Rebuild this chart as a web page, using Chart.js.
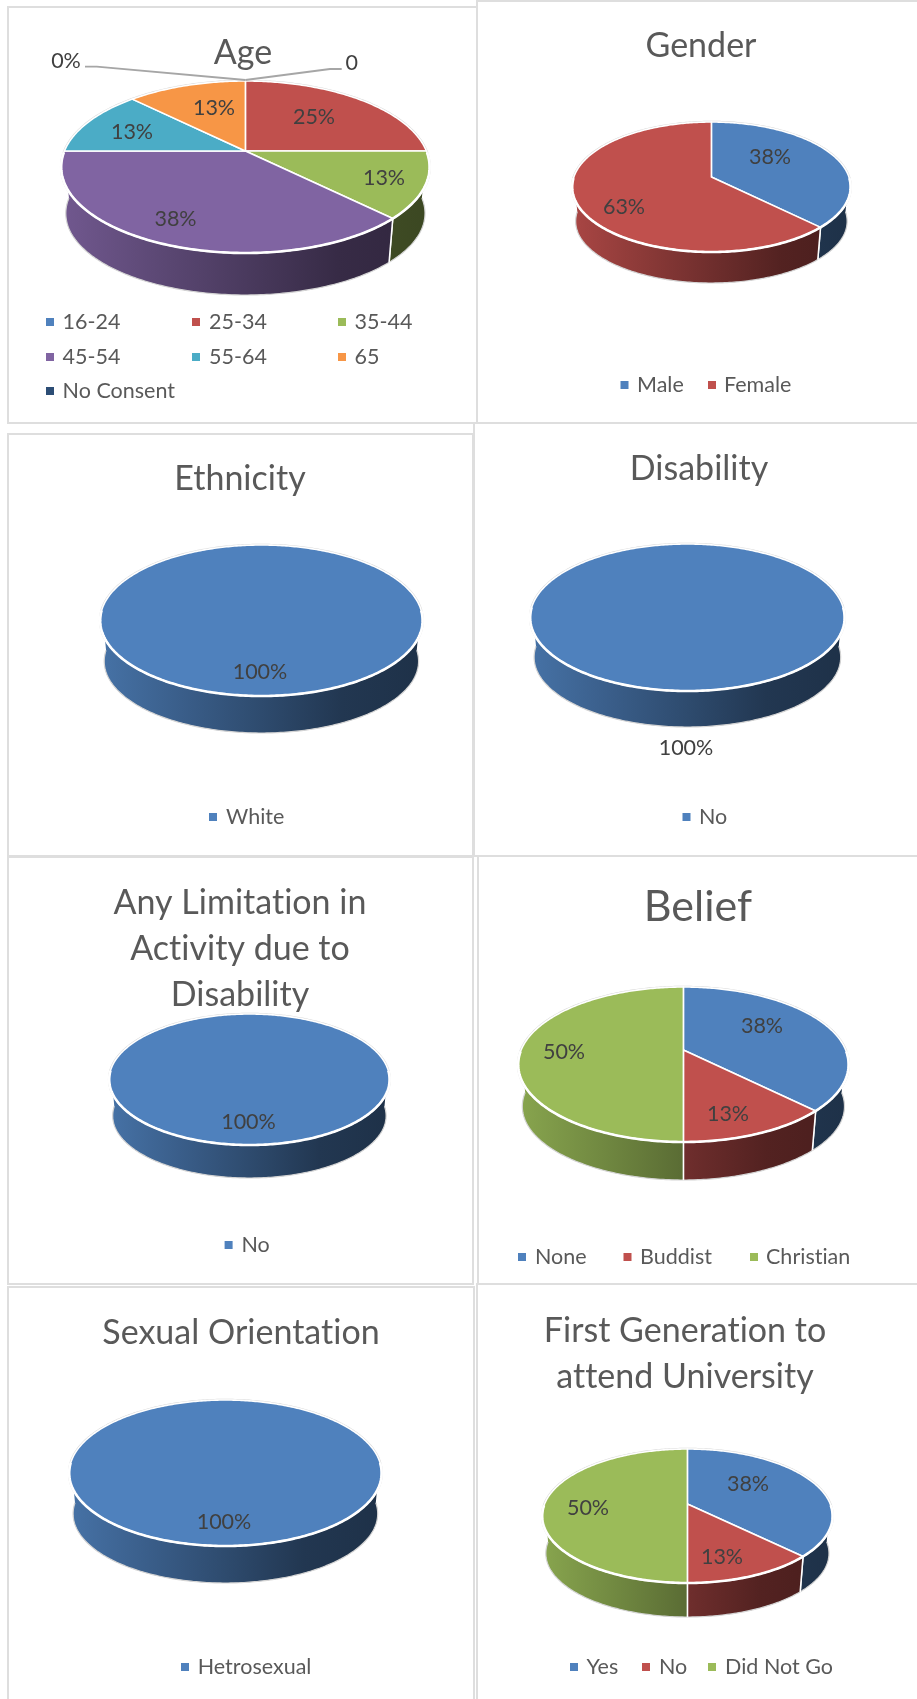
<!DOCTYPE html>
<html>
<head>
<meta charset="utf-8">
<style>
html,body{margin:0;padding:0;background:#fff;width:917px;height:1699px;overflow:hidden}
.panel{position:absolute;box-sizing:border-box;border:2.5px solid #DEDEDE;background:#fff}
canvas{position:absolute}
</style>
<script src="https://cdn.jsdelivr.net/npm/chart.js@4"></script>
</head>
<body>
<script>
// ---- data (respondent counts; the percentages are derived from them) ----
const ageLabels = ['16-24','25-34','35-44','45-54','55-64','65','No Consent'];
const ageValues = [0,2,1,3,1,1,0];
const genderLabels = ['Male','Female'];
const genderValues = [3,5];
const ethnicityLabels = ['White'];
const ethnicityValues = [8];
const disabilityLabels = ['No'];
const disabilityValues = [8];
const limitationLabels = ['No'];
const limitationValues = [8];
const beliefLabels = ['None','Buddist','Christian'];
const beliefValues = [3,1,4];
const sexualLabels = ['Hetrosexual'];
const sexualValues = [8];
const firstGenLabels = ['Yes','No','Did Not Go'];
const firstGenValues = [3,1,4];
const palette = ['#4F81BD','#C0504D','#9BBB59','#8064A2','#4BACC6','#F79646','#2C4D75'];

// ---- layout (page pixels) ----
const panels = [
 [7,6,471,418],[476,0,460,424],
 [7,433,467,424],[473,422,460,435],
 [7,856,467,429],[477,855,460,430],
 [7,1286,468,430],[476,1283,460,430]
];
const charts = [
 {title:'Age',labels:ageLabels,values:ageValues,tx:243,ty:53,fs:34,
  top:[0,860],pie:{cx:245.4,top:81,cy:151,bot:253,wall:295,r:184.2},
  lab:{1:[314,117],2:[384,178],3:[175.5,219],4:[132,132],5:[214,108]},
  zero:[{i:0,text:'0%',at:[66,60.7],elbow:[[96.7,66.7],[85,66.7]]},{i:6,text:'0',at:[351.7,62.7],elbow:[[330,69],[341.7,69]]}],
  leg:[[50,62.6,322],[196,209,322],[342,354.5,322],[50,62.6,357],[196,209,357],[342,354.5,357],[50,62.6,391]],h:424},
 {title:'Gender',labels:genderLabels,values:genderValues,tx:700.6,ty:46,fs:34,
  pie:{cx:711.4,top:122,cy:177,bot:252,wall:283,r:139.2},
  lab:{0:[770,157],1:[624,207]},
  leg:[[624.5,637,385],[712,724,385]],h:424},
 {title:'Ethnicity',labels:ethnicityLabels,values:ethnicityValues,tx:240,ty:478.5,fs:34,
  pie:{cx:261.4,top:545,cy:609,bot:696,wall:733,r:161.2},
  lab:{0:[260,672]},leg:[[213,226,817]],h:424},
 {title:'Disability',labels:disabilityLabels,values:disabilityValues,tx:699,ty:469,fs:34,
  pie:{cx:687.4,top:544,cy:606,bot:691,wall:727,r:157.2},
  lab:{0:[686,748]},leg:[[686.5,699,817]],h:424},
 {title:['Any Limitation in','Activity due to','Disability'],labels:limitationLabels,values:limitationValues,tx:240,ty:902.5,fs:34,
  pie:{cx:249.4,top:1014,cy:1069.5,bot:1145,wall:1178,r:140.2},
  lab:{0:[248.5,1122]},leg:[[228.6,241.5,1245]],h:428},
 {title:'Belief',labels:beliefLabels,values:beliefValues,tx:698,ty:907,fs:43,
  pie:{cx:683.4,top:987,cy:1050,bot:1142,wall:1180,r:165.2},
  lab:{0:[762,1026],1:[728,1114],2:[564,1052]},
  leg:[[522,535,1257],[627.5,640,1257],[754,766,1257]],h:428},
 {title:'Sexual Orientation',labels:sexualLabels,values:sexualValues,tx:240.5,ty:1333,fs:34,
  pie:{cx:225.4,top:1400,cy:1461.5,bot:1546,wall:1583,r:156.2},
  lab:{0:[224,1522]},leg:[[185,197.7,1667]],h:410},
 {title:['First Generation to','attend University'],labels:firstGenLabels,values:firstGenValues,tx:685,ty:1331,fs:34,
  pie:{cx:687.4,top:1449,cy:1504,bot:1583,wall:1617,r:145.2},
  lab:{0:[748,1484],1:[722,1557],2:[588,1508]},
  leg:[[574,586.5,1667],[646,659,1667],[712,725,1667]],h:410}
];
const LINE = 46, CANVAS_W = 440, FONT = 'Lato';

function shade(hex,f){
  const n=parseInt(hex.slice(1),16);
  return 'rgb('+[(n>>16)&255,(n>>8)&255,n&255].map(c=>Math.round(c*f)).join(',')+')';
}
function project(p,a){
  // perspective view of the round pie: the hub sits above the middle of the ellipse
  const up=p.cy-p.top, down=p.bot-p.cy, k=(down-up)/(down+up);
  const Ry=up*(1+k), Rx=p.r*Math.sqrt(1-k*k);
  const u=Math.cos(a), v=Math.sin(a), w=1-k*v;
  return [p.cx+Rx*u/w, p.cy+Ry*v/w];
}
function samples(a0,a1){
  const n=Math.max(2,Math.ceil((a1-a0)/0.015)), out=[];
  for(let i=0;i<=n;i++) out.push(a0+(a1-a0)*i/n);
  return out;
}
const pie3d = {
  id:'pie3d',
  beforeDraw(chart){ chart.ctx.letterSpacing='0.01px'; },
  beforeDatasetsDraw(chart,args,opts){
    const c=opts.cfg,p=c.pie,ctx=chart.ctx,ox=opts.ox,oy=opts.oy;
    const arcs=chart.getDatasetMeta(0).data;
    const total=c.values.reduce((s,v)=>s+v,0);
    ctx.save();
    ctx.translate(-ox,-oy);
    ctx.lineJoin='round';
    // lower rim: the same circle, slightly narrower and flatter, dropped by the pie's depth
    const mid=(p.top+p.bot)/2, SX=0.975, SY=0.95;
    const D=p.wall-p.bot+(p.bot-mid)*(1-SY);
    const low=a=>{const q=project(p,a);return [p.cx+(q[0]-p.cx)*SX, mid+D+(q[1]-mid)*SY];};
    // faint halo round the disc
    ctx.beginPath();
    samples(0,Math.PI*2).forEach((a,i)=>{const q=project(p,a);i?ctx.lineTo(q[0],q[1]):ctx.moveTo(q[0],q[1]);});
    ctx.closePath();ctx.strokeStyle='#D8D8D8';ctx.lineWidth=2.5;ctx.stroke();
    // side walls
    arcs.forEach(el=>{
      const a0=Math.max(el.startAngle,0), a1=Math.min(el.endAngle,Math.PI);
      if(a1<=a0) return;
      const col=el.options.backgroundColor;
      const g=ctx.createLinearGradient(p.cx-p.r,0,p.cx+p.r,0);
      [[0,.88],[.25,.73],[.5,.58],[.75,.43],[1,.38]].forEach(s=>g.addColorStop(s[0],shade(col,s[1])));
      const arc=samples(a0,a1);
      ctx.beginPath();
      arc.forEach((a,i)=>{const q=project(p,a);i?ctx.lineTo(q[0],q[1]):ctx.moveTo(q[0],q[1]);});
      arc.slice().reverse().forEach(a=>{const q=low(a);ctx.lineTo(q[0],q[1]);});
      ctx.closePath();ctx.fillStyle=g;ctx.fill();
      ctx.beginPath();
      arc.forEach((a,i)=>{const q=low(a);i?ctx.lineTo(q[0],q[1]):ctx.moveTo(q[0],q[1]);});
      ctx.strokeStyle='#D4D4D4';ctx.lineWidth=1.2;ctx.stroke();
      // white seam where a slice edge meets the wall
      [a0,a1].forEach(a=>{
        if(a<=0.001||a>=Math.PI-0.001) return;
        const t=project(p,a),b=low(a);
        ctx.beginPath();ctx.moveTo(t[0],t[1]);ctx.lineTo(b[0],b[1]);
        ctx.strokeStyle='#fff';ctx.lineWidth=1.5;ctx.stroke();
      });
    });
    // top faces
    arcs.forEach(el=>{
      if(el.endAngle-el.startAngle<1e-6) return;
      const full=el.endAngle-el.startAngle>Math.PI*2-1e-6;
      ctx.beginPath();
      if(!full) ctx.moveTo(p.cx,p.cy);
      samples(el.startAngle,el.endAngle).forEach((a,i)=>{const q=project(p,a);(full&&!i)?ctx.moveTo(q[0],q[1]):ctx.lineTo(q[0],q[1]);});
      ctx.closePath();
      ctx.fillStyle=el.options.backgroundColor;ctx.fill();
      ctx.strokeStyle='#fff';ctx.lineWidth=1.6;ctx.stroke();
    });
    // thicker white rim on the front
    ctx.beginPath();
    samples(0.02,Math.PI-0.02).forEach((a,i)=>{const q=project(p,a);i?ctx.lineTo(q[0],q[1]):ctx.moveTo(q[0],q[1]);});
    ctx.strokeStyle='#fff';ctx.lineWidth=2.6;ctx.stroke();
    // leader lines of the empty slices
    (c.zero||[]).forEach(z=>{
      const hub=project(p,arcs[z.i].startAngle);
      ctx.beginPath();ctx.moveTo(hub[0],hub[1]-1);
      z.elbow.forEach(q=>ctx.lineTo(q[0],q[1]));
      ctx.strokeStyle='#A6A6A6';ctx.lineWidth=1.8;ctx.stroke();
    });
    // data labels
    ctx.textAlign='center';ctx.textBaseline='middle';
    ctx.font='21.5px '+FONT;ctx.fillStyle='#404040';
    Object.keys(c.lab).forEach(i=>{
      ctx.fillText(Math.round(c.values[i]/total*100)+'%',c.lab[i][0],c.lab[i][1]);
    });
    (c.zero||[]).forEach(z=>ctx.fillText(z.text,z.at[0],z.at[1]));
    // legend
    ctx.textAlign='left';
    c.labels.forEach((t,i)=>{
      const L=c.leg[i];
      ctx.fillStyle=arcs[i].options.backgroundColor;
      ctx.fillRect(L[0]-4,L[2]-4,8,8);
      ctx.fillStyle='#595959';
      ctx.fillText(t,L[1],L[2]);
    });
    ctx.restore();
    return false;
  }
};

panels.forEach(b=>{
  const d=document.createElement('div');d.className='panel';
  d.style.cssText='left:'+b[0]+'px;top:'+b[1]+'px;width:'+b[2]+'px;height:'+b[3]+'px';
  document.body.appendChild(d);
});
charts.forEach(c=>{
  const cv=document.createElement('canvas');
  const ox=Math.round(c.tx-CANVAS_W/2);
  const oy=Math.round(c.ty-LINE/2-6);
  const H=c.h+40;
  cv.width=CANVAS_W;cv.height=H;
  cv.style.cssText='left:'+ox+'px;top:'+oy+'px;width:'+CANVAS_W+'px;height:'+H+'px';
  document.body.appendChild(cv);
  new Chart(cv.getContext('2d'),{
    type:'pie',
    data:{labels:c.labels,datasets:[{data:c.values,backgroundColor:palette.slice(0,c.values.length),borderWidth:0}]},
    plugins:[pie3d],
    options:{
      responsive:false,animation:false,devicePixelRatio:1,events:[],
      layout:{padding:0},
      plugins:{
        legend:{display:false},tooltip:{enabled:false},
        title:{display:true,text:c.title,color:'#595959',align:'center',
          font:{family:FONT,size:c.fs,weight:'normal',lineHeight:LINE/c.fs},padding:{top:6,bottom:0}},
        pie3d:{cfg:c,ox:ox,oy:oy}
      }
    }
  });
});
</script>
</body>
</html>
